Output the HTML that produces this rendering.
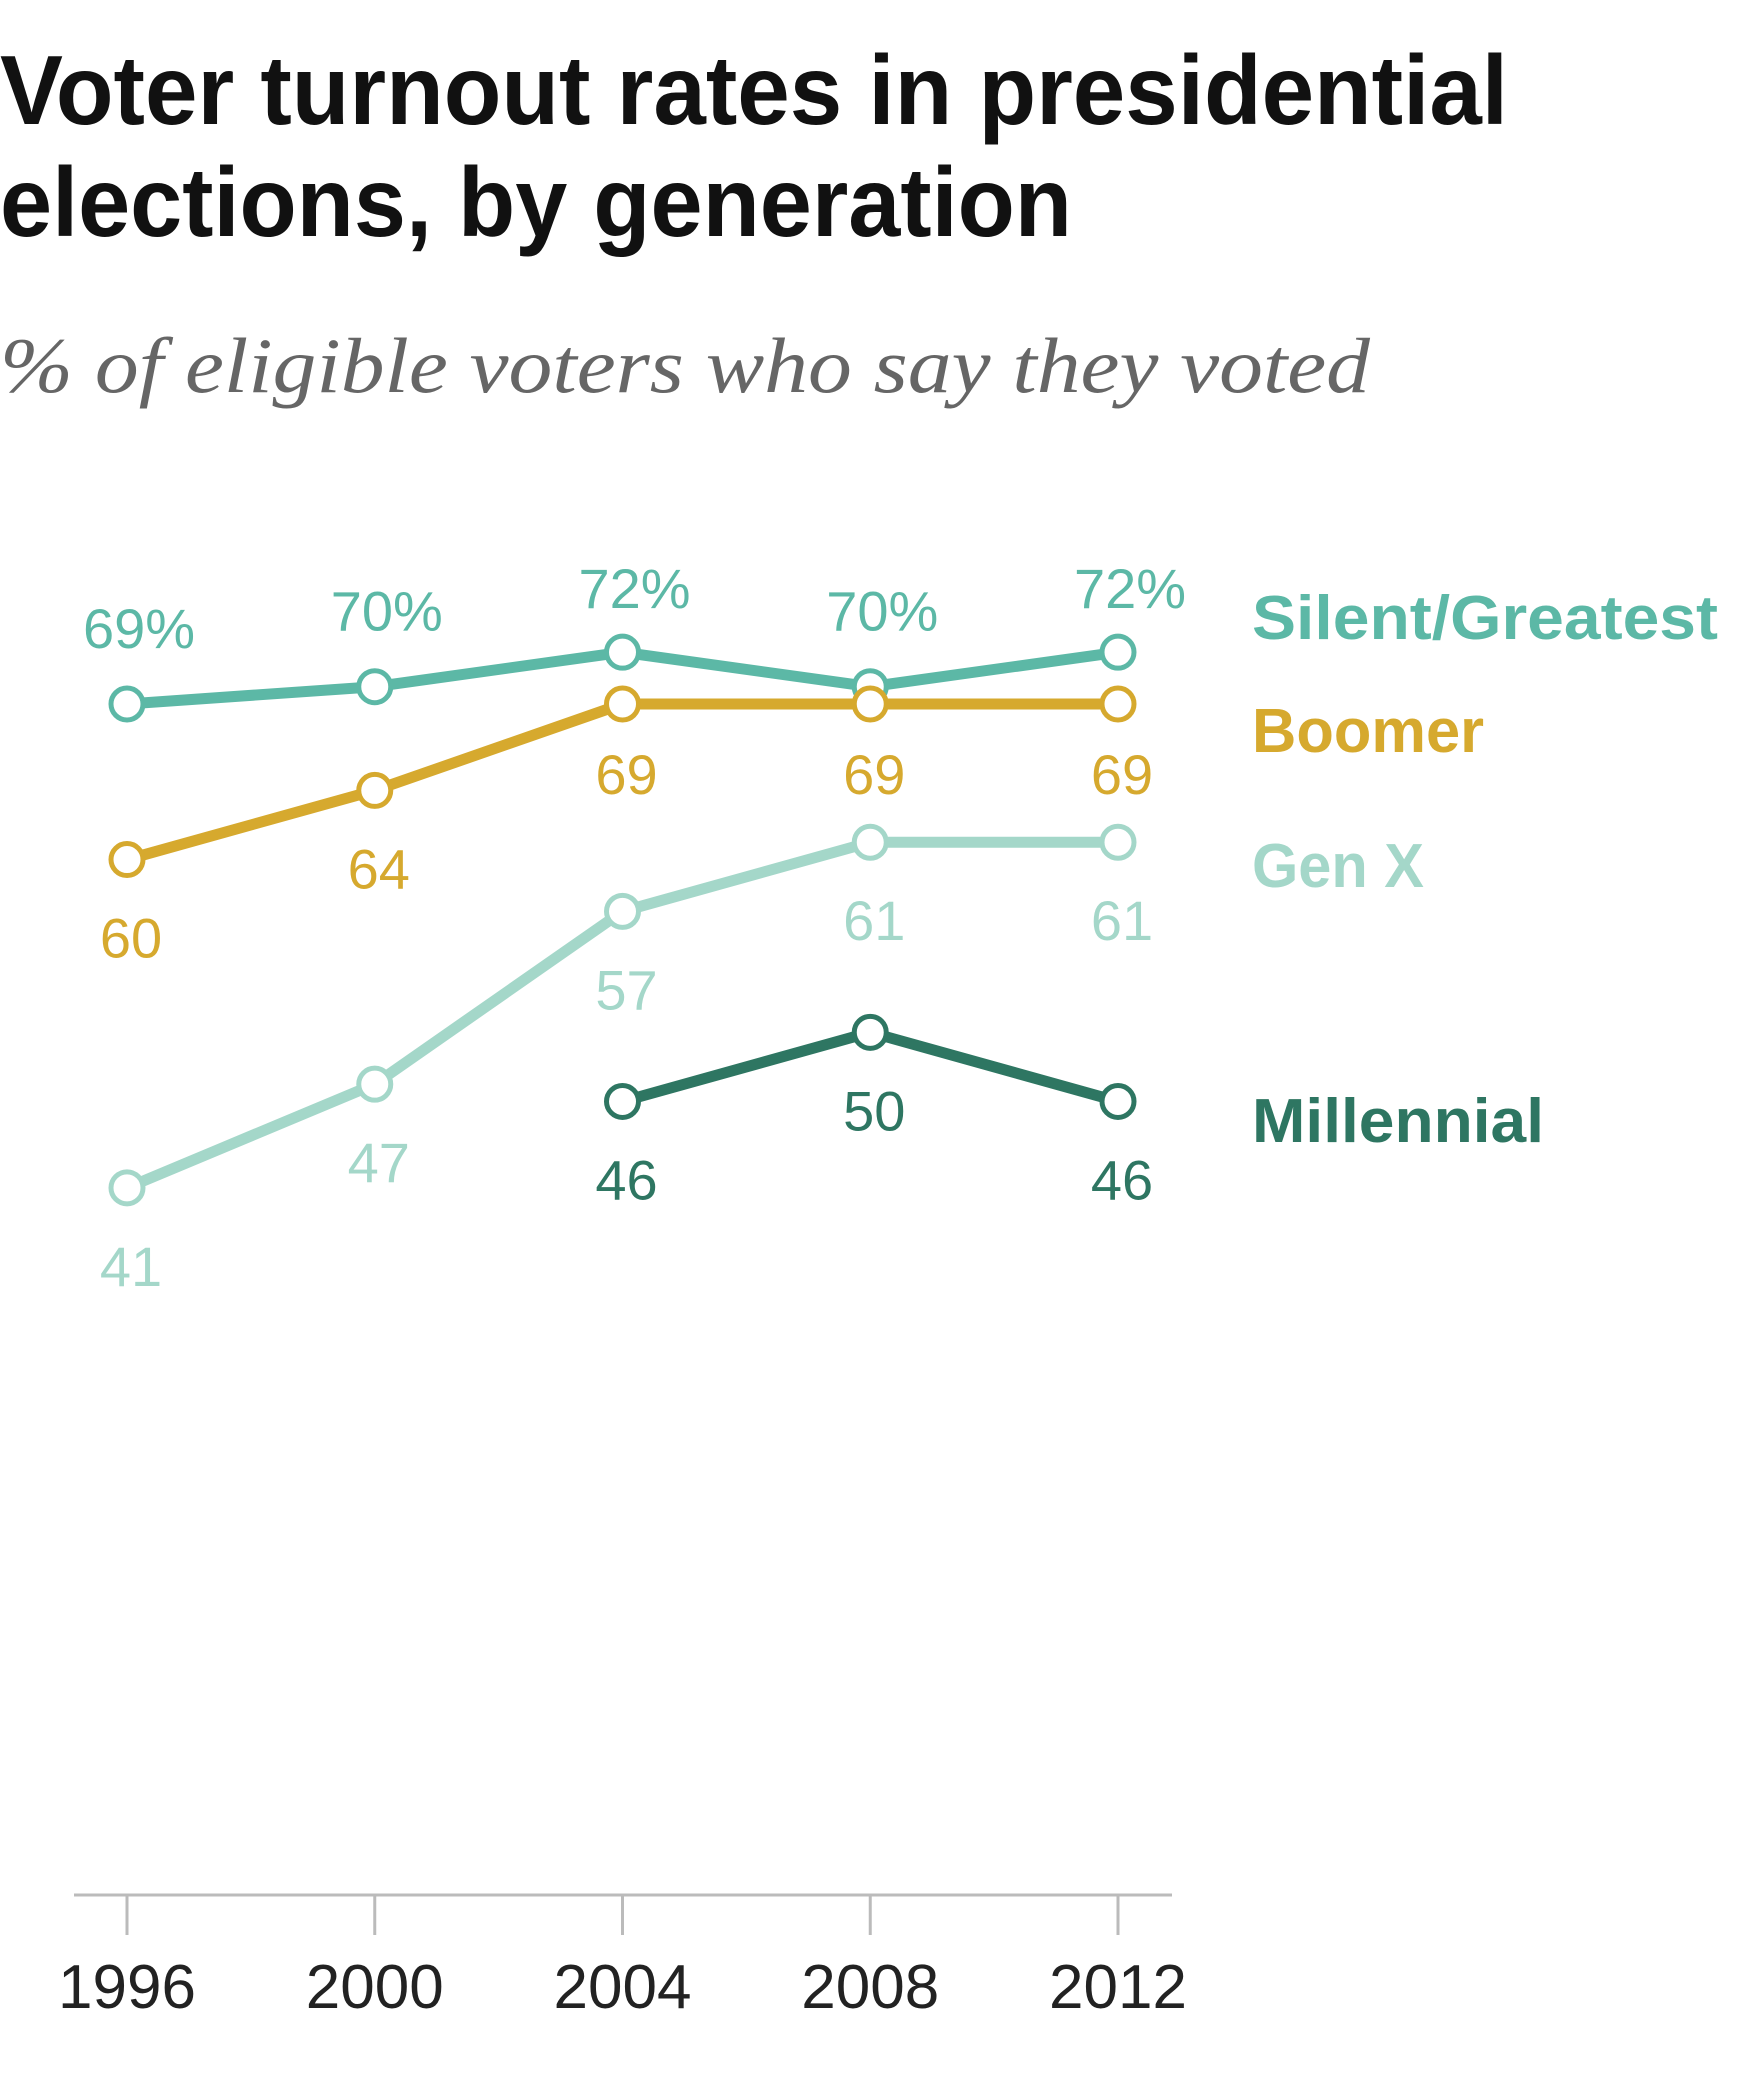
<!DOCTYPE html>
<html><head><meta charset="utf-8"><style>
html,body{margin:0;padding:0;background:#fff;}
svg{display:block;font-family:"Liberation Sans",sans-serif;}
</style></head><body>
<svg width="1760" height="2078" viewBox="0 0 1760 2078">
<text x="0" y="124" font-size="98" font-weight="bold" fill="#111" textLength="1508" lengthAdjust="spacingAndGlyphs">Voter turnout rates in presidential</text>
<text x="0" y="236" font-size="98" font-weight="bold" fill="#111" textLength="1072" lengthAdjust="spacingAndGlyphs">elections, by generation</text>
<text x="0" y="392" font-size="78" font-style="italic" fill="#666" font-family="Liberation Serif, serif" textLength="1370" lengthAdjust="spacingAndGlyphs">% of eligible voters who say they voted</text>
<g id="plot"></g>
</svg>
<script>
const years = ["1996","2000","2004","2008","2012"];
const silent = [69,70,72,70,72];
const boomer = [60,64,69,69,69];
const genx = [41,47,57,61,61];
const millennial = [null,null,46,50,46];
const seriesNames = ["Silent/Greatest","Boomer","Gen X","Millennial"];

const NS="http://www.w3.org/2000/svg";
const plot=document.getElementById('plot');
function xS(i){return 127+i*247.75;}
function yS(v){return 704-(v-69)*17.28;}
function mk(tag,attrs){const e=document.createElementNS(NS,tag);for(const k in attrs)e.setAttribute(k,attrs[k]);plot.appendChild(e);return e;}

let ax=mk('line',{x1:74,x2:1172,y1:1895,y2:1895,stroke:'#bbb','stroke-width':3});


years.forEach((y,i)=>{
  let t=mk('line',{x1:xS(i),x2:xS(i),y1:1895,y2:1935,stroke:'#bbb','stroke-width':3});
  
  
  let l=mk('text',{x:xS(i),y:2008,'text-anchor':'middle','font-size':62,fill:'#222'});
  l.textContent=y;
  
  
});

const defs=[
 {vals:silent,color:'#5cb8a6',name:'silent-greatest',above:true,pct:true,legendY:639,lw:466},
 {vals:boomer,color:'#d6a92e',name:'boomer',above:false,legendY:752,lw:232},
 {vals:genx,color:'#a4d7c9',name:'gen-x',above:false,legendY:887,lw:172},
 {vals:millennial,color:'#2e7662',name:'millennial',above:false,legendY:1142,lw:292}
];
defs.forEach(d=>{
  const pts=[];d.vals.forEach((v,i)=>{if(v!=null)pts.push(xS(i)+','+yS(v));});
  let p=mk('polyline',{points:pts.join(' '),fill:'none',stroke:d.color,'stroke-width':11,'stroke-linejoin':'round'});
  
  
});
defs.forEach((d,si)=>{
  d.vals.forEach((v,i)=>{
    if(v==null)return;
    let c=mk('circle',{cx:xS(i),cy:yS(v),r:16,fill:'#fff',stroke:d.color,'stroke-width':5});
    
    
    let t=mk('text',{x:xS(i)+(d.above?12:4),y:d.above?yS(v)-(v>=72?44:56):yS(v)+(v===69&&d.name==='boomer'?90:98),'text-anchor':'middle','font-size':56,fill:d.color});
    t.textContent=v+(d.pct?'%':'');
    
    
  });
  let lg=mk('text',{x:1252,y:d.legendY,'font-size':62,'font-weight':'bold',fill:d.color,textLength:d.lw,lengthAdjust:'spacingAndGlyphs'});
  lg.textContent=seriesNames[si];
  
  
});
</script>
</body></html>
